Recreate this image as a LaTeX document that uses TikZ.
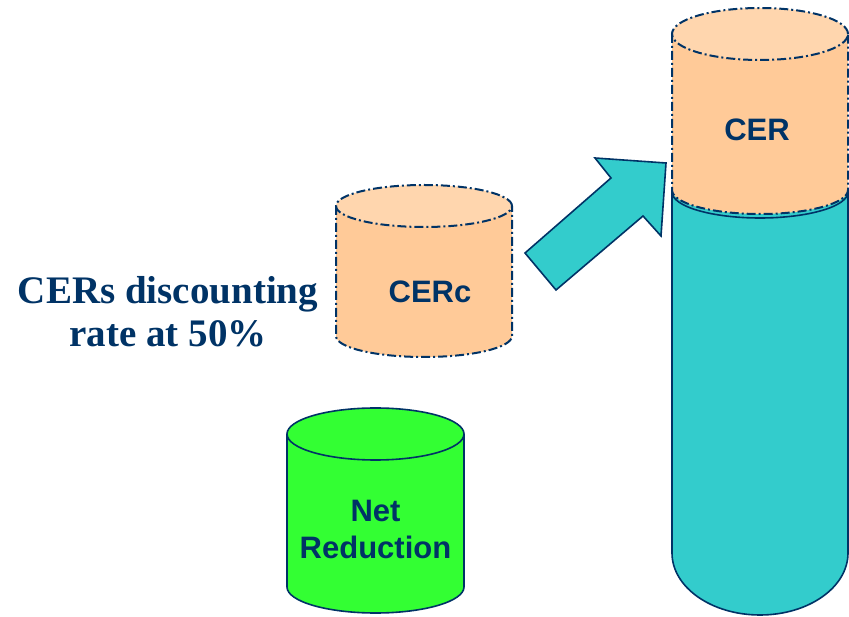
\documentclass[tikz,border=0pt]{standalone}
\usepackage{fontspec}
\setmainfont{Liberation Serif}
\setsansfont{Liberation Sans}
\definecolor{navy}{RGB}{0,51,102}
\tikzset{
  outline/.style={draw=navy, line width=1.6pt},
  dashdot/.style={draw=navy, line width=2pt, dash pattern=on 9pt off 3pt on 2pt off 3pt},
  cyllabel/.style={text=navy, font=\sffamily\bfseries\fontsize{31}{37}\selectfont, align=center}
}

\begin{document}
\begin{tikzpicture}[x=1pt,y=1pt]
      \useasboundingbox (0,0) rectangle (849,616);
      \definecolor{peach}{RGB}{255,202,152}
      \definecolor{peachtop}{RGB}{255,214,174}
      \definecolor{tube}{RGB}{51,204,204}
      \definecolor{netgreen}{RGB}{51,255,51}
      \begin{scope}[shift={(760,63)}]
          \def\rx{88pt}
          \fill[tube] (-88,363) -- (-88,0) arc[start angle=180,end angle=360,x radius=\rx,y radius=62pt] -- (88,363) -- cycle;
          \draw[outline] (-88,363) -- (-88,0) arc[start angle=180,end angle=360,x radius=\rx,y radius=62pt] -- (88,363);
          \draw[outline] (-88,361) arc[start angle=180,end angle=360,x radius=\rx,y radius=26pt];
          \fill[peach] (-88,519) -- (-88,363) arc[start angle=180,end angle=360,x radius=\rx,y radius=24pt] -- (88,519) -- cycle;
          \fill[peachtop] (0,519) ellipse[x radius=\rx,y radius=26pt];
          \draw[dashdot] (-88,519) -- (-88,363) arc[start angle=180,end angle=360,x radius=\rx,y radius=24pt] -- (88,519);
          \draw[dashdot] (0,519) ellipse[x radius=\rx,y radius=26pt];
          \node[cyllabel] (cer) at (-3,423) {CER};
      \end{scope}
      \begin{scope}[shift={(424,280)}]
          \def\rx{88pt}
          \def\ry{21pt}
          \fill[peach] (-88,130) -- (-88,0) arc[start angle=180,end angle=360,x radius=\rx,y radius=\ry] -- (88,130) -- cycle;
          \fill[peachtop] (0,130) ellipse[x radius=\rx,y radius=\ry];
          \draw[dashdot] (-88,130) -- (-88,0) arc[start angle=180,end angle=360,x radius=\rx,y radius=\ry] -- (88,130);
          \draw[dashdot] (0,130) ellipse[x radius=\rx,y radius=\ry];
          \node[cyllabel] (cerc) at (6,44) {CERc};
      \end{scope}
      \begin{scope}[shift={(375.5,29)}]
          \def\rx{88.5pt}
          \def\ry{26pt}
          \fill[netgreen] (-88.5,153) -- (-88.5,0) arc[start angle=180,end angle=360,x radius=\rx,y radius=\ry] -- (88.5,153) -- cycle;
          \draw[outline] (-88.5,153) -- (-88.5,0) arc[start angle=180,end angle=360,x radius=\rx,y radius=\ry] -- (88.5,153);
          \draw[outline,fill=netgreen] (0,153) ellipse[x radius=\rx,y radius=\ry];
          \node[cyllabel] (net) at (0,58) {Net\\Reduction};
      \end{scope}
      \draw[outline,fill=tube] (525,363) -- (556,326) -- (643,400) -- (661,380) -- (666,453) -- (595,458) -- (611,438) -- cycle;
      \node[text=navy, font=\bfseries\fontsize{39}{43}\selectfont, align=center] (rate) at (168,304) {CERs discounting\\rate at 50\%};
  \end{tikzpicture}
\end{document}
